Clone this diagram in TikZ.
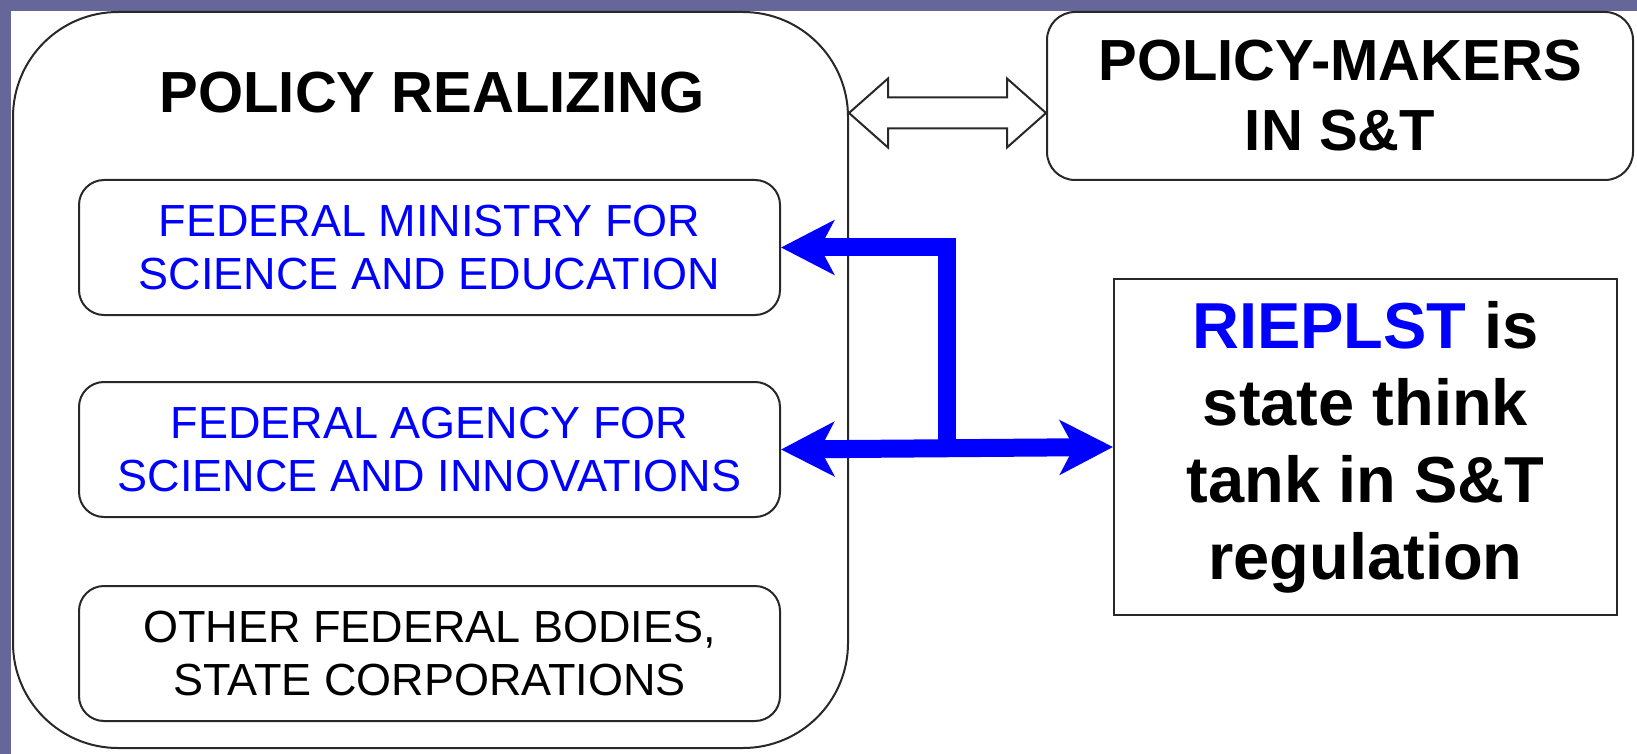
\documentclass[tikz,border=0pt]{standalone}
\usepackage{fontspec}
\setmainfont{Liberation Sans}
\usepackage{xcolor}
\usepackage{tikz}
\usetikzlibrary{arrows.meta}
\usetikzlibrary{calc}
\usetikzlibrary{positioning}
\definecolor{slide}{RGB}{102,102,153}
\definecolor{edge}{RGB}{40,40,40}

\begin{document}
\begin{tikzpicture}[x=0.5pt,y=-0.5pt,line width=1pt,line join=miter,>={Stealth[length=26.5pt,width=27pt,inset=7pt]}]
 				 \tikzstyle{inbox}=[draw=edge, rounded corners=12.5pt, minimum width=350.5pt, minimum height=67.5pt, inner sep=0pt, align=center, font=\fontsize{22.5pt}{26.5pt}\selectfont]
 				 \tikzstyle{bigfont}=[font=\fontsize{29pt}{35pt}\selectfont\bfseries]
 				 \tikzstyle{bluearrow}=[draw=blue, line width=9pt]
 				 \tikzstyle{hollow}=[draw=edge, fill=white, line width=1pt]
 					 % slide background
 					 \fill[slide] (0,0) rectangle (1637,754);
 					 \fill[white] (11,11) rectangle (1637,754);
 					 \useasboundingbox (0,0) rectangle (1637,754);
 					 \node[draw=edge, rounded corners=52.5pt, minimum width=417.5pt, minimum height=368pt] (realize) at (430.5,380) {};
 					 \node[bigfont, anchor=base] (title) at (432,113) {POLICY REALIZING};
 					 \node[inbox, text=blue] (ministry) at (429.5,247.5) {FEDERAL MINISTRY FOR\\SCIENCE AND EDUCATION};
 					 \node[inbox, text=blue] (agency) [below=32.5pt of ministry] {FEDERAL AGENCY FOR\\SCIENCE AND INNOVATIONS};
 					 \node[inbox] (other) [below=33.5pt of agency] {OTHER FEDERAL BODIES,\\STATE CORPORATIONS};
 					 \node[bigfont, draw=edge, rounded corners=14pt, minimum width=293pt, minimum height=84pt, inner sep=0pt, align=center] (makers) at (1340,96) {POLICY-MAKERS\\IN S\&T};
 					 \node[draw=edge, minimum width=251.5pt, minimum height=168pt, inner sep=0pt, align=center, font=\fontsize{32.5pt}{38.5pt}\selectfont\bfseries] (rieplst) at (1365.5,447) {{\color{blue}RIEPLST} is\\state think\\tank in S\&T\\regulation};
 					 \coordinate (jn) at ($(agency.east)!0.5!(rieplst.west)$);
 					 \coordinate (hl) at (realize.east |- 0,113);
 					 \coordinate (hr) at (makers.west |- 0,113);
				% hollow double arrow
				\draw[hollow] (hl) -- ++(39,-34.5) -- ++(0,19) -- ($(hr)+(-39,-15.5)$) -- ++(0,-19) -- (hr)
				 -- ++(-39,34.5) -- ++(0,-19) -- ($(hl)+(39,15.5)$) -- ++(0,19) -- cycle;
				% blue arrows
				\draw[bluearrow,->] (jn) |- (ministry.east);
				\draw[bluearrow,<->] (agency.east) -- (rieplst.west);
\end{tikzpicture}
\end{document}
